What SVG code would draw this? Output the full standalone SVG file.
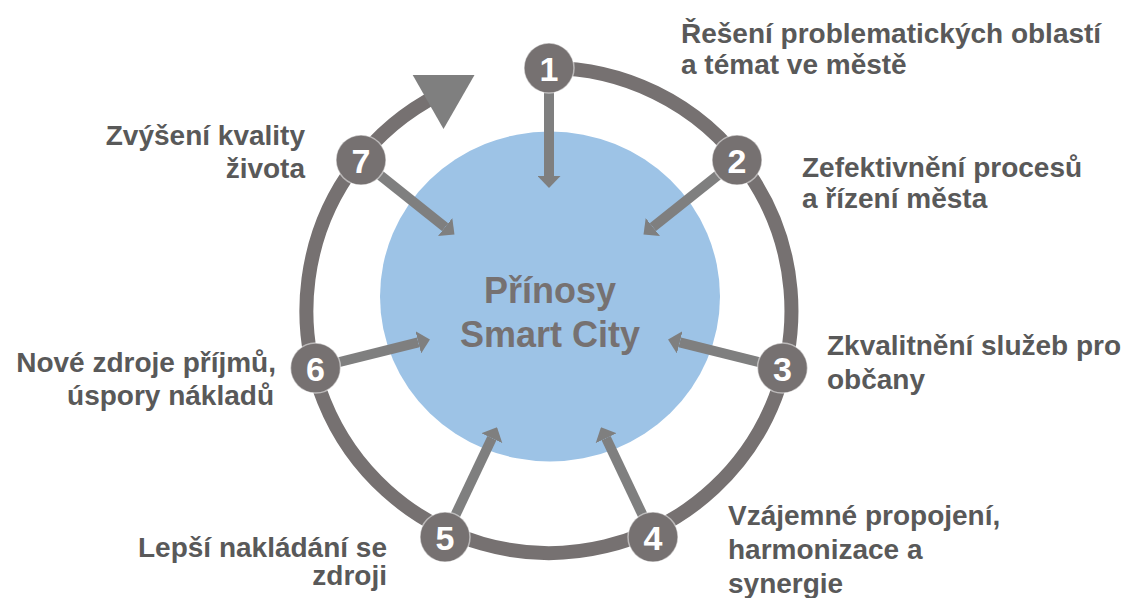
<svg xmlns="http://www.w3.org/2000/svg" width="1131" height="598" viewBox="0 0 1131 598">
  <style>
    .label { font-family: "Liberation Sans", Arial, sans-serif; font-weight: bold; font-size: 28px; fill: #595959; }
    .end { text-anchor: end; }
    .core { font-family: "Liberation Sans", Arial, sans-serif; font-weight: bold; font-size: 36px; fill: #767171; text-anchor: middle; }
    .num { font-family: "Liberation Sans", Arial, sans-serif; font-weight: bold; font-size: 34px; fill: #ffffff; text-anchor: middle; }
    .dot { fill: #767171; stroke: #ffffff; stroke-opacity: 0.5; stroke-width: 1.5; }
    .spoke { stroke: #7f7f7f; stroke-width: 10; fill: none; marker-end: url(#head); }
  </style>
  <defs>
    <marker id="head" markerUnits="userSpaceOnUse" viewBox="0 0 12 23" refX="0" refY="11.5" markerWidth="12" markerHeight="23" orient="auto">
      <path d="M0,0 L12,11.5 L0,23 Z" fill="#7f7f7f"/>
    </marker>
  </defs>

  <rect width="1131" height="598" fill="#ffffff"/>

  <!-- central disc -->
  <g id="core">
    <ellipse cx="550" cy="296.5" rx="170" ry="165" fill="#9dc3e6"/>
    <text class="core" x="550" y="303">Přínosy</text>
    <text class="core" x="550" y="346.5">Smart City</text>
  </g>

  <!-- cycle ring and spokes -->
  <g id="connectors">
    <path d="M549,68 A242.5,242.5 0 1 1 438.9,94.4" fill="none" stroke="#767171" stroke-width="14"/>
    <polygon points="412.7,75 474.5,75 443.5,129" fill="#7f7f7f"/>
    <line class="spoke" x1="549" y1="68" x2="549" y2="176"/>
    <line class="spoke" x1="737" y1="160" x2="652.9" y2="227.1"/>
    <line class="spoke" x1="782.5" y1="368" x2="679.7" y2="342.4"/>
    <line class="spoke" x1="653" y1="537" x2="606.1" y2="438.2"/>
    <line class="spoke" x1="445" y1="537" x2="491.9" y2="438.2"/>
    <line class="spoke" x1="315.5" y1="368" x2="418.3" y2="342.4"/>
    <line class="spoke" x1="361" y1="160" x2="445.1" y2="227.1"/>
  </g>

  <g id="node1">
    <circle class="dot" cx="549" cy="68" r="25"/>
    <text class="num" x="549" y="81">1</text>
    <text class="label" x="681" y="43">Řešení problematických oblastí</text>
    <text class="label" x="681" y="74">a témat ve městě</text>
  </g>
  <g id="node2">
    <circle class="dot" cx="737" cy="160" r="25"/>
    <text class="num" x="737" y="173">2</text>
    <text class="label" x="802" y="177">Zefektivnění procesů</text>
    <text class="label" x="802" y="208">a řízení města</text>
  </g>
  <g id="node3">
    <circle class="dot" cx="782.5" cy="368" r="25"/>
    <text class="num" x="782.5" y="381">3</text>
    <text class="label" x="827" y="355">Zkvalitnění služeb pro</text>
    <text class="label" x="827" y="389">občany</text>
  </g>
  <g id="node4">
    <circle class="dot" cx="653" cy="537" r="25"/>
    <text class="num" x="653" y="550">4</text>
    <text class="label" x="728" y="525">Vzájemné propojení,</text>
    <text class="label" x="728" y="559">harmonizace a</text>
    <text class="label" x="728" y="593">synergie</text>
  </g>
  <g id="node5">
    <circle class="dot" cx="445" cy="537" r="25"/>
    <text class="num" x="445" y="550">5</text>
    <text class="label end" x="387" y="557">Lepší nakládání se</text>
    <text class="label end" x="387" y="585">zdroji</text>
  </g>
  <g id="node6">
    <circle class="dot" cx="315.5" cy="368" r="25"/>
    <text class="num" x="315.5" y="381">6</text>
    <text class="label end" x="276" y="372">Nové zdroje příjmů,</text>
    <text class="label end" x="274" y="405">úspory nákladů</text>
  </g>
  <g id="node7">
    <circle class="dot" cx="361" cy="160" r="25"/>
    <text class="num" x="361" y="173">7</text>
    <text class="label end" x="305" y="145">Zvýšení kvality</text>
    <text class="label end" x="305" y="178">života</text>
  </g>
</svg>
